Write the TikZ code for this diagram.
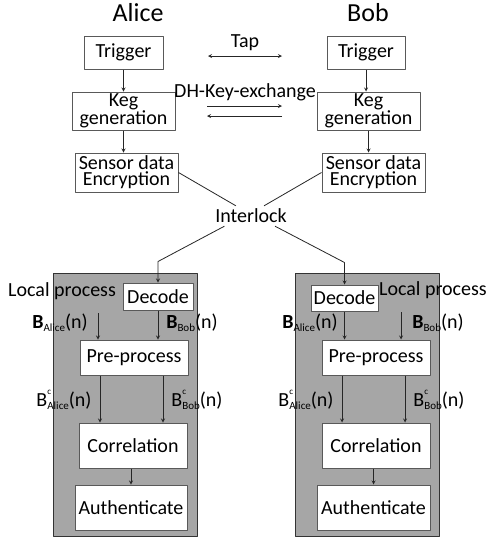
\documentclass[tikz,border=0pt]{standalone}
\usepackage{fontspec}
\setmainfont{Carlito}
\usetikzlibrary{calc}
\tikzset{
  box/.style={draw=black!65, fill=white, line width=1pt, inner sep=0pt, font=\fontsize{20}{16}\selectfont, align=center},
  panel/.style={draw=black!80, fill=black!35, line width=1pt},
  lbl/.style={inner sep=0pt, font=\fontsize{20}{22}\selectfont},
  flow/.style={->, draw=black!85, line width=0.8pt},
  link/.style={draw=black!85, line width=0.8pt}
}
\newcommand{\Bsub}[1]{\textbf{B}\raisebox{-0.35ex}{\fontsize{11}{11}\selectfont #1}(n)}
\newcommand{\Bcsub}[1]{B\makebox[0pt][l]{\raisebox{1.2ex}{\fontsize{9}{9}\selectfont c}}\raisebox{-0.35ex}{\fontsize{11}{11}\selectfont #1}(n)}
\begin{document}
\begin{tikzpicture}[x=1pt, y=-1pt, >=stealth, line join=round]
	\useasboundingbox[fill=white] (0,0) rectangle (487,544);
	% titles
	\node[lbl, font=\fontsize{26}{28}\selectfont] (alice) at (138,13) {Alice};
	\node[lbl, font=\fontsize{26}{28}\selectfont] (bob) at (368,13) {Bob};
	% Alice side
	\node[box, minimum width=79, minimum height=33] (trigA) at (123.5,52.5) {Trigger};
	\node[box, minimum width=103, minimum height=38] (kegA) at (123.5,111) {Keg\\generation};
	\node[box, minimum width=103, minimum height=39] (sensA) at (126.5,172.5) {Sensor data\\Encryption};
	% Bob side
	\node[box, minimum width=78, minimum height=33] (trigB) at (366,52.5) {Trigger};
	\node[box, minimum width=103, minimum height=38] (kegB) at (368.5,111) {Keg\\generation};
	\node[box, minimum width=103, minimum height=39] (sensB) at (373.5,172.5) {Sensor data\\Encryption};
	\foreach \s in {A,B}{
		\draw[flow] (trig\s.south) -- (trig\s.south |- keg\s.north);
		\draw[flow] (keg\s.south) -- (keg\s.south |- sens\s.north);
	}
	% exchange between the two
	\node[lbl] (tap) at (245,43) {Tap};
	\coordinate (tapL) at (208,56); \coordinate (tapR) at (282,56);
	\draw[<->, draw=black!85, line width=0.8pt] (tapL) -- (tapR);
	\node[lbl] (dh) at (245,92) {DH-Key-exchange};
	\coordinate (dhL) at (207,106); \coordinate (dhR) at (282,106);
	\draw[flow] (dhL) -- (dhR);
	\draw[flow] ([yshift=-10pt]dhR) -- ([yshift=-10pt]dhL);
	\node[lbl, inner sep=3pt] (inter) at (251,216) {Interlock};
	\draw[link] (sensA.east) -- (inter.146);
	\draw[link] (sensB.west) -- (inter.38);
	% local processing panels
	\draw[panel] (53,273) rectangle (197,536);
	\draw[panel] (295,273) rectangle (439,536);
	\node[box, minimum width=70, minimum height=27] (decA) at (158,296.5) {Decode};
	\node[box, minimum width=108, minimum height=35] (preA) at (134,357.5) {Pre-process};
	\node[box, minimum width=108, minimum height=45] (corA) at (133,445.5) {Correlation};
	\node[box, minimum width=112, minimum height=45] (autA) at (131,507.5) {Authenticate};
	\node[box, minimum width=67, minimum height=26] (decB) at (344.5,298) {Decode};
	\node[box, minimum width=108, minimum height=35] (preB) at (376,357.5) {Pre-process};
	\node[box, minimum width=108, minimum height=45] (corB) at (376,445.5) {Correlation};
	\node[box, minimum width=113, minimum height=45] (autB) at (373.5,507.5) {Authenticate};
	\draw[flow] (inter.201) -- ([yshift=21pt]decA.north) -- (decA.north);
	\draw[flow] (inter.-23) -- ([yshift=22pt]decB.north) -- (decB.north);
	\node[lbl, anchor=west] (locA) at (8,291) {Local process};
	\node[lbl, anchor=east] (locB) at (487,290) {Local process};
	% inputs of pre-process
	\coordinate (inA) at (98,313);
	\coordinate (inB) at (401,312);
	\draw[flow] (inA) -- (inA |- preA.north);
	\draw[flow] (decA.south) -- (decA.south |- preA.north);
	\draw[flow] (decB.south) -- (decB.south |- preB.north);
	\draw[flow] (inB) -- (inB |- preB.north);
	\node[lbl] (bAA) at (60,323) {\Bsub{Alice}};
	\node[lbl] (bBA) at (192,323) {\Bsub{Bob}};
	\node[lbl] (bAB) at (310,323) {\Bsub{Alice}};
	\node[lbl] (bBB) at (438,323) {\Bsub{Bob}};
	% pre-process -> correlation -> authenticate
	\foreach \s in {A,B}{
		\foreach \dx in {-34,29}
			\draw[flow] ([xshift=\dx pt]pre\s.south) -- ([xshift=\dx pt]pre\s.south |- cor\s.north);
		\draw[flow] (cor\s.south -| aut\s.north) -- (aut\s.north);
	}
	\node[lbl] (cAA) at (64,400) {\Bcsub{Alice}};
	\node[lbl] (cBA) at (197,400) {\Bcsub{Bob}};
	\node[lbl] (cAB) at (306,400) {\Bcsub{Alice}};
	\node[lbl] (cBB) at (439,400) {\Bcsub{Bob}};
\end{tikzpicture}
\end{document}
